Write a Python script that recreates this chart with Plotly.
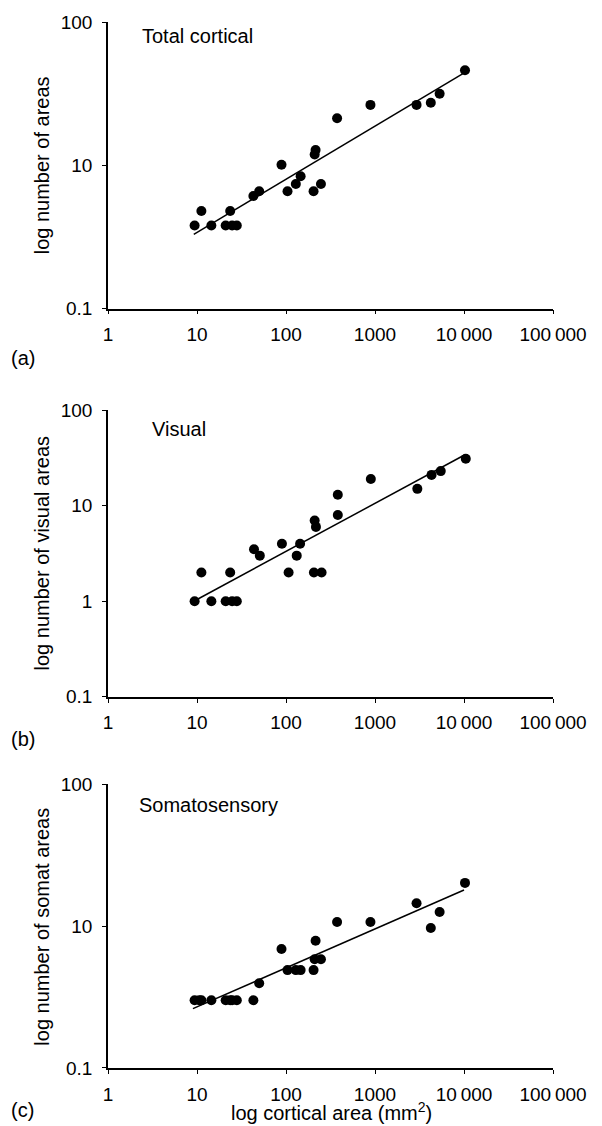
import plotly.graph_objects as go

# ---- data ----
x_ticks = [1, 10, 100, 1000, 10000, 100000]
x_ticktext = ["1", "10", "100", "1000", "10\u2009000", "100\u2009000"]

# Panel (a) Total cortical
xa = [9.4, 11.2, 14.5, 21, 23.6, 24.8, 28, 43, 50, 89, 104, 129, 146, 204, 210, 215, 247, 375, 889, 2930, 4236, 5325, 10260]
ya = [3.8, 4.8, 3.8, 3.8, 4.8, 3.8, 3.8, 6.1, 6.6, 10.1, 6.6, 7.4, 8.4, 6.6, 11.9, 12.8, 7.4, 21.3, 26.4, 26.4, 27.3, 31.6, 46]
fit_xa = [9.2, 10160]
fit_ya = [3.3, 44.4]
ya_ticks = [1, 10, 100]
ya_ticktext = ["0.1", "10", "100"]

# Panel (b) Visual
xb = [9.4, 11.2, 14.5, 21, 23.6, 24.8, 28, 43.7, 50.8, 90, 107, 132, 144, 206, 210, 217, 251, 382, 382, 898, 2990, 4320, 5480, 10470]
yb = [1, 2, 1, 1, 2, 1, 1, 3.5, 3, 4, 2, 3, 4, 2, 7, 6, 2, 13, 8, 19, 15, 21, 23, 31]
fit_xb = [9.2, 10000]
fit_yb = [1.0, 33.7]
yb_ticks = [0.1, 1, 10, 100]
yb_ticktext = ["0.1", "1", "10", "100"]

# Panel (c) Somatosensory
xc = [9.4, 10.6, 11.2, 14.5, 21, 23.6, 24.8, 28, 43, 50, 89, 104, 129, 146, 204, 210, 215, 247, 375, 889, 2930, 4236, 5325, 10260]
yc = [3, 3, 3, 3, 3, 3, 3, 3, 3, 3.96, 6.9, 4.9, 4.9, 4.9, 4.9, 5.85, 7.9, 5.85, 10.7, 10.7, 14.5, 9.7, 12.6, 20.2]
fit_xc = [9.0, 10000]
fit_yc = [2.62, 18.0]
yc_ticks = [1, 10, 100]
yc_ticktext = ["0.1", "10", "100"]

FONT = "Liberation Sans, Arial, Helvetica, sans-serif"
TICK_SIZE = 19
TEXT_SIZE = 20

fig = go.Figure()

panels = [
    ("", xa, ya, fit_xa, fit_ya),
    ("2", xb, yb, fit_xb, fit_yb),
    ("3", xc, yc, fit_xc, fit_yc),
]
for suf, xs, ys, fx, fy in panels:
    fig.add_trace(go.Scatter(x=fx, y=fy, mode="lines", xaxis="x" + suf, yaxis="y" + suf,
                             line=dict(color="black", width=1.5), showlegend=False, hoverinfo="skip"))
    fig.add_trace(go.Scatter(x=xs, y=ys, mode="markers", xaxis="x" + suf, yaxis="y" + suf,
                             marker=dict(color="black", size=10), showlegend=False))

W, H = 602, 1126
L, R, T, B = 108, 49, 17, 58
ph = H - T - B


def py(pix):
    return (H - B - pix) / ph


dom_a = [py(305), 1.0]
dom_b = [py(695), py(407)]
dom_c = [0.0, py(783)]

xcommon = dict(type="log", range=[0, 5], tickvals=x_ticks, ticktext=x_ticktext,
               showgrid=False, zeroline=False, showline=True, linecolor="black", linewidth=1.5,
               ticks="outside", ticklen=4, tickcolor="black", ticklabelstandoff=4,
               tickfont=dict(size=TICK_SIZE, color="black", family=FONT),
               domain=[0, 1])
ycommon = dict(type="log", showgrid=False, zeroline=False, showline=True, linecolor="black", linewidth=1.5,
               ticks="outside", ticklen=4, tickcolor="black", ticklabelstandoff=6,
               tickfont=dict(size=TICK_SIZE, color="black", family=FONT))

fig.update_layout(
    width=W, height=H,
    margin=dict(l=L, r=R, t=T, b=B),
    paper_bgcolor="white", plot_bgcolor="white",
    font=dict(family=FONT, color="black", size=TEXT_SIZE),
    xaxis=dict(**xcommon, anchor="y"),
    yaxis=dict(**ycommon, domain=dom_a, range=[0, 2], tickvals=ya_ticks, ticktext=ya_ticktext, anchor="x"),
    xaxis2=dict(**xcommon, anchor="y2"),
    yaxis2=dict(**ycommon, domain=dom_b, range=[-1, 2], tickvals=yb_ticks, ticktext=yb_ticktext, anchor="x2"),
    xaxis3=dict(**xcommon, anchor="y3"),
    yaxis3=dict(**ycommon, domain=dom_c, range=[0, 2], tickvals=yc_ticks, ticktext=yc_ticktext, anchor="x3"),
)


def px(pix):
    return (pix - L) / (W - L - R)


ann = []
# panel titles
for txt, xp, yp in [("Total cortical", 140, 31), ("Visual", 150, 426), ("Somatosensory", 137, 804)]:
    ann.append(dict(text=txt, x=px(xp), y=py(yp), xref="paper", yref="paper",
                    xanchor="left", yanchor="middle", showarrow=False, font=dict(size=TEXT_SIZE)))
# y titles
for txt, yc_ in [("log number of areas", 161), ("log number of visual areas", 551), ("log number of somat areas", 926)]:
    ann.append(dict(text=txt, x=px(42), y=py(yc_), xref="paper", yref="paper", textangle=-90,
                    xanchor="center", yanchor="middle", showarrow=False, font=dict(size=TEXT_SIZE)))
# panel letters
for txt, yp in [("(a)", 355), ("(b)", 737), ("(c)", 1110)]:
    ann.append(dict(text=txt, x=px(9), y=py(yp), xref="paper", yref="paper",
                    xanchor="left", yanchor="middle", showarrow=False, font=dict(size=TEXT_SIZE)))
# x title
ann.append(dict(text="log cortical area (mm<sup>2</sup>)", x=px(331), y=py(1112), xref="paper", yref="paper",
                xanchor="center", yanchor="middle", showarrow=False, font=dict(size=TEXT_SIZE)))
fig.update_layout(annotations=ann)

fig.write_html("out.html", config={"displayModeBar": False},
               post_script="document.body.style.margin='0';document.body.style.overflow='hidden';")
